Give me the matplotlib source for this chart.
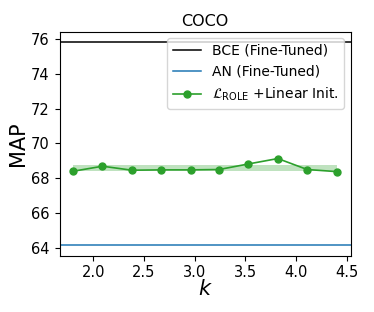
import matplotlib
matplotlib.use("Agg")
import matplotlib.pyplot as plt

k_values = [1.80, 2.09, 2.38, 2.67, 2.96, 3.24, 3.53, 3.82, 4.11, 4.40]
role_map = [68.40, 68.69, 68.46, 68.48, 68.48, 68.50, 68.82, 69.13, 68.50, 68.38]
band_lo = [68.40] * len(k_values)
band_hi = [68.74] * len(k_values)
bce_value = 75.85
an_value = 64.14
y_ticks = [64, 66, 68, 70, 72, 74, 76]
x_ticks = [2.0, 2.5, 3.0, 3.5, 4.0, 4.5]

fig = plt.figure(figsize=(3.74, 3.12), dpi=100)
ax = fig.add_axes([59.5/374, 1 - 255.5/312, (351 - 59.5)/374, (255.5 - 31.5)/312])

ax.axhline(bce_value, color="black", lw=1.1, label="BCE (Fine-Tuned)")
ax.axhline(an_value, color="#1f77b4", lw=1.1, label="AN (Fine-Tuned)")
ax.plot(k_values, role_map, color="#2ca02c", marker="o", ms=5, lw=1.2,
        label=r"$\mathcal{L}_{\mathrm{ROLE}}$ +Linear Init.")
ax.fill_between(k_values, band_lo, band_hi, color="#2ca02c", alpha=0.3, lw=0)

ax.set_xlim(1.666, 4.542)
ax.set_ylim(63.56, 76.43)
ax.set_xticks(x_ticks)
ax.set_yticks(y_ticks)
ax.tick_params(labelsize=10.5)
ax.set_xlabel("$k$", fontsize=15, labelpad=-1)
ax.set_ylabel("MAP", fontsize=15, labelpad=2)
ax.set_title("COCO", fontsize=11.5, pad=4)
ax.legend(loc="upper right", fontsize=10)

fig.savefig("out.png", dpi=100)
